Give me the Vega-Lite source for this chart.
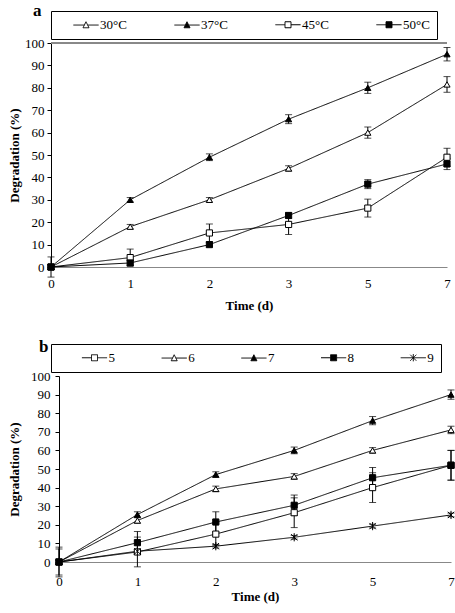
{
  "$schema": "https://vega.github.io/schema/vega-lite/v6.json",
  "padding": {"left": 8, "top": 1, "right": 2, "bottom": 2},
  "spacing": 25,
  "columns": 1,
  "align": "none",
  "datasets": {
    "tempData": [
      {"series": "30°C", "day": 0, "y": 0, "err": 1},
      {"series": "30°C", "day": 1, "y": 18, "err": 1},
      {"series": "30°C", "day": 2, "y": 30, "err": 1},
      {"series": "30°C", "day": 3, "y": 44, "err": 1.2},
      {"series": "30°C", "day": 5, "y": 60, "err": 2.5},
      {"series": "30°C", "day": 7, "y": 81.5, "err": 3.5},
      {"series": "37°C", "day": 0, "y": 0, "err": 1},
      {"series": "37°C", "day": 1, "y": 30, "err": 1},
      {"series": "37°C", "day": 2, "y": 49, "err": 1.5},
      {"series": "37°C", "day": 3, "y": 66, "err": 2},
      {"series": "37°C", "day": 5, "y": 80, "err": 2.5},
      {"series": "37°C", "day": 7, "y": 95, "err": 3},
      {"series": "45°C", "day": 0, "y": 0, "err": 4.5},
      {"series": "45°C", "day": 1, "y": 4.2, "err": 3.8},
      {"series": "45°C", "day": 2, "y": 15.2, "err": 4},
      {"series": "45°C", "day": 3, "y": 19, "err": 4.5},
      {"series": "45°C", "day": 5, "y": 26.3, "err": 4},
      {"series": "45°C", "day": 7, "y": 49, "err": 4},
      {"series": "50°C", "day": 0, "y": 0, "err": 1},
      {"series": "50°C", "day": 1, "y": 1.8, "err": 1},
      {"series": "50°C", "day": 2, "y": 10, "err": 1},
      {"series": "50°C", "day": 3, "y": 23, "err": 1.2},
      {"series": "50°C", "day": 5, "y": 37, "err": 2},
      {"series": "50°C", "day": 7, "y": 46, "err": 2.5}
    ],
    "phData": [
      {"series": "5", "day": 0, "y": 0, "err": 7},
      {"series": "5", "day": 1, "y": 5.4, "err": 8},
      {"series": "5", "day": 2, "y": 15, "err": 6},
      {"series": "5", "day": 3, "y": 26.5, "err": 8},
      {"series": "5", "day": 5, "y": 40, "err": 8},
      {"series": "5", "day": 7, "y": 52, "err": 8},
      {"series": "6", "day": 0, "y": 0, "err": 1},
      {"series": "6", "day": 1, "y": 22.3, "err": 1.5},
      {"series": "6", "day": 2, "y": 39.3, "err": 1.5},
      {"series": "6", "day": 3, "y": 46, "err": 1.5},
      {"series": "6", "day": 5, "y": 60, "err": 1.5},
      {"series": "6", "day": 7, "y": 71, "err": 2},
      {"series": "7", "day": 0, "y": 0, "err": 1},
      {"series": "7", "day": 1, "y": 25.5, "err": 1.5},
      {"series": "7", "day": 2, "y": 47, "err": 1.5},
      {"series": "7", "day": 3, "y": 60, "err": 1.8},
      {"series": "7", "day": 5, "y": 76, "err": 2.2},
      {"series": "7", "day": 7, "y": 90, "err": 2.5},
      {"series": "8", "day": 0, "y": 0, "err": 8},
      {"series": "8", "day": 1, "y": 10.4, "err": 6},
      {"series": "8", "day": 2, "y": 21.5, "err": 5.5},
      {"series": "8", "day": 3, "y": 30.5, "err": 5.5},
      {"series": "8", "day": 5, "y": 45.3, "err": 5.5},
      {"series": "8", "day": 7, "y": 52, "err": 8},
      {"series": "9", "day": 0, "y": 0, "err": 1},
      {"series": "9", "day": 1, "y": 5.8, "err": 1},
      {"series": "9", "day": 2, "y": 8.5, "err": 1},
      {"series": "9", "day": 3, "y": 13.3, "err": 1},
      {"series": "9", "day": 5, "y": 19.3, "err": 1},
      {"series": "9", "day": 7, "y": 25.3, "err": 1}
    ]
  },
  "concat": [
    {
      "width": 396,
      "height": 224,
      "data": {"name": "tempData"},
      "title": {"text": "a", "anchor": "start", "frame": "group", "fontSize": 17, "fontWeight": "bold", "font": "Liberation Serif", "color": "black", "dx": -18, "dy": 9, "offset": 0},
      "encoding": {
        "x": {"field": "day", "type": "ordinal", "scale": {"type": "point", "padding": 0, "domain": [0, 1, 2, 3, 5, 7]},
              "axis": {"title": "Time (d)", "labelAngle": 0, "ticks": false, "domainColor": "#888888", "labelPadding": 10, "titlePadding": 9}},
        "y": {"field": "y", "type": "quantitative", "scale": {"domain": [0, 100], "nice": false},
              "axis": {"title": "Degradation (%)", "values": [0, 10, 20, 30, 40, 50, 60, 70, 80, 90, 100], "tickSize": 4, "labelPadding": 3, "titlePadding": 3}}
      },
      "layer": [
        {"mark": {"type": "rule", "color": "#888888", "strokeWidth": 1}, "encoding": {"x": {"value": 0}, "x2": {"value": 396}, "y": {"datum": 100}}},
        {"mark": {"type": "errorbar", "color": "black", "thickness": 1, "ticks": {"size": 7}},
         "encoding": {"yError": {"field": "err"}, "detail": {"field": "series"}}},
        {"mark": {"type": "line", "color": "black", "strokeWidth": 1},
         "encoding": {
           "strokeDash": {"field": "series", "type": "nominal", "scale": {"domain": ["30°C", "37°C", "45°C", "50°C"], "range": [[1, 0], [1, 0], [1, 0], [1, 0]]},
             "legend": {"title": null, "orient": "top", "direction": "horizontal", "strokeColor": "black", "padding": 7, "offset": 4, "columnPadding": 32, "symbolOffset": 21.5, "labelOffset": 7.5, "symbolSize": 36, "symbolStrokeWidth": 1, "symbolStrokeColor": "black",
               "encode": {"symbols": {"update": {
                 "shape": {"signal": "datum.value === '30°C' || datum.value === '37°C' ? 'M-4.2,0.1L-0.55,0.1M0.55,0.1L4.2,0.1M0,-1L1,1L-1,1Z' : 'M-4.2,0L-1,0M1,0L4.2,0M-1,-1L1,-1L1,1L-1,1Z'"},
                 "fill": {"signal": "datum.value === '37°C' || datum.value === '50°C' ? 'black' : 'white'"},
                 "stroke": {"value": "black"},
                 "strokeWidth": {"value": 1}
               }}}
             }
           }
         }
        },
        {"transform": [{"filter": "datum.series === '30°C'"}], "mark": {"type": "point", "shape": "triangle-up", "filled": true, "fill": "white", "size": 38, "stroke": "black", "strokeWidth": 1, "opacity": 1}},
        {"transform": [{"filter": "datum.series === '37°C'"}], "mark": {"type": "point", "shape": "triangle-up", "filled": true, "fill": "black", "size": 38, "stroke": "black", "strokeWidth": 1, "opacity": 1}},
        {"transform": [{"filter": "datum.series === '45°C'"}], "mark": {"type": "point", "shape": "square", "filled": true, "fill": "white", "size": 38, "stroke": "black", "strokeWidth": 1, "opacity": 1}},
        {"transform": [{"filter": "datum.series === '50°C'"}], "mark": {"type": "point", "shape": "square", "filled": true, "fill": "black", "size": 38, "stroke": "black", "strokeWidth": 1, "opacity": 1}}
      ]
    },
    {
      "width": 400,
      "height": 186,
      "data": {"name": "phData"},
      "title": {"text": "b", "anchor": "start", "frame": "group", "fontSize": 17, "fontWeight": "bold", "font": "Liberation Serif", "color": "black", "dx": -12, "dy": 12, "offset": 0},
      "encoding": {
        "x": {"field": "day", "type": "ordinal", "scale": {"type": "point", "padding": 0, "domain": [0, 1, 2, 3, 5, 7], "range": [8, 400]},
              "axis": {"title": "Time (d)", "labelAngle": 0, "ticks": false, "domainColor": "#888888", "labelPadding": 13, "titlePadding": 2}},
        "y": {"field": "y", "type": "quantitative", "scale": {"domain": [0, 100], "nice": false},
              "axis": {"title": "Degradation (%)", "offset": -8, "values": [0, 10, 20, 30, 40, 50, 60, 70, 80, 90, 100], "tickSize": 4, "labelPadding": 5, "titlePadding": 9}}
      },
      "layer": [
        {"mark": {"type": "errorbar", "color": "black", "thickness": 1, "ticks": {"size": 7}},
         "encoding": {"yError": {"field": "err"}, "detail": {"field": "series"}}},
        {"mark": {"type": "line", "color": "black", "strokeWidth": 1},
         "encoding": {
           "strokeDash": {"field": "series", "type": "nominal", "scale": {"domain": ["5", "6", "7", "8", "9"], "range": [[1, 0], [1, 0], [1, 0], [1, 0], [1, 0]]},
             "legend": {"title": null, "orient": "top", "direction": "horizontal", "strokeColor": "black", "padding": 7, "offset": 4, "columnPadding": 22.7, "symbolOffset": 30, "labelOffset": 7.5, "symbolSize": 36, "symbolStrokeWidth": 1, "symbolStrokeColor": "black",
               "encode": {"symbols": {"update": {
                 "shape": {"signal": "datum.value === '5' || datum.value === '8' ? 'M-4.2,0L-1,0M1,0L4.2,0M-1,-1L1,-1L1,1L-1,1Z' : datum.value === '9' ? 'M-4.2,0L4.2,0M-1,-1L1,1M-1,1L1,-1M0,-1.2L0,1.2' : 'M-4.2,0.1L-0.55,0.1M0.55,0.1L4.2,0.1M0,-1L1,1L-1,1Z'"},
                 "fill": {"signal": "datum.value === '7' || datum.value === '8' ? 'black' : 'white'"},
                 "stroke": {"value": "black"},
                 "strokeWidth": {"value": 1}
               }}}
             }
           }
         }
        },
        {"transform": [{"filter": "datum.series === '5'"}], "mark": {"type": "point", "shape": "square", "filled": true, "fill": "white", "size": 38, "stroke": "black", "strokeWidth": 1, "opacity": 1}},
        {"transform": [{"filter": "datum.series === '6'"}], "mark": {"type": "point", "shape": "triangle-up", "filled": true, "fill": "white", "size": 38, "stroke": "black", "strokeWidth": 1, "opacity": 1}},
        {"transform": [{"filter": "datum.series === '7'"}], "mark": {"type": "point", "shape": "triangle-up", "filled": true, "fill": "black", "size": 38, "stroke": "black", "strokeWidth": 1, "opacity": 1}},
        {"transform": [{"filter": "datum.series === '8'"}], "mark": {"type": "point", "shape": "square", "filled": true, "fill": "black", "size": 38, "stroke": "black", "strokeWidth": 1, "opacity": 1}},
        {"transform": [{"filter": "datum.series === '9'"}], "mark": {"type": "point", "shape": "M-1,-1L1,1M-1,1L1,-1M0,-1.3L0,1.3", "filled": false, "size": 40, "stroke": "black", "strokeWidth": 1, "opacity": 1}}
      ]
    }
  ],
  "resolve": {"scale": {"strokeDash": "independent"}},
  "config": {
    "font": "Liberation Serif",
    "view": {"stroke": null},
    "axis": {"labelFont": "Liberation Serif", "labelFontSize": 13, "labelColor": "black", "titleFont": "Liberation Serif", "titleFontSize": 13, "titleFontWeight": "bold", "titleColor": "black", "domainColor": "black", "tickColor": "black", "grid": false},
    "legend": {"labelFont": "Liberation Serif", "labelFontSize": 13, "labelColor": "black"}
  }
}
